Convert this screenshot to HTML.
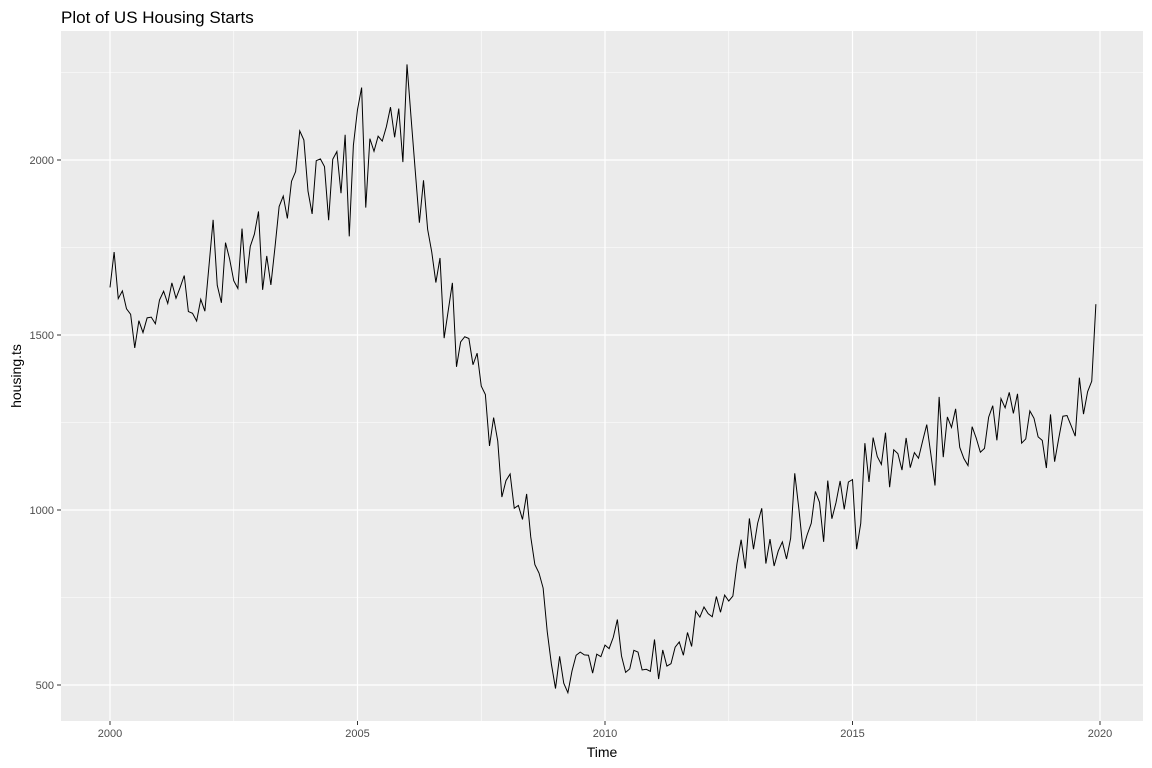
<!DOCTYPE html>
<html><head><meta charset="utf-8"><style>
html,body{margin:0;padding:0;background:#fff;}
svg{display:block;font-family:"Liberation Sans",Arial,sans-serif;}
</style></head><body>
<svg id="chart" width="1152" height="768" viewBox="0 0 1152 768" xmlns="http://www.w3.org/2000/svg">
<rect width="1152" height="768" fill="#fff"/>
<text x="61" y="23" font-size="17" fill="#000">Plot of US Housing Starts</text>
<rect x="61" y="31" width="1082" height="690" fill="#ebebeb"/>
<g id="grid"></g>
<g id="ticks"></g>
<path id="line" fill="none" stroke="#000" stroke-width="1"/>
<text x="602" y="757" font-size="14" text-anchor="middle" fill="#000">Time</text>
<text transform="translate(21,376) rotate(-90)" font-size="14" text-anchor="middle" fill="#000">housing.ts</text>
</svg>
<script>
const startYear = 2000;
const values = [
1636,1737,1604,1626,1575,1559,1463,1541,1507,1549,1551,1532,
1600,1625,1590,1649,1605,1636,1670,1567,1562,1540,1602,1568,
1698,1829,1642,1592,1764,1717,1655,1633,1804,1648,1753,1788,
1853,1629,1726,1643,1751,1867,1897,1833,1939,1967,2083,2057,
1911,1846,1998,2003,1981,1828,2002,2024,1905,2072,1782,2042,
2144,2207,1864,2061,2025,2068,2054,2095,2151,2065,2147,1994,
2273,2119,1969,1821,1942,1802,1737,1650,1720,1491,1570,1649,
1409,1480,1495,1490,1415,1448,1354,1330,1183,1264,1197,1037,
1084,1103,1005,1013,973,1046,923,844,820,777,652,560,
490,582,505,478,540,585,594,586,585,534,588,581,
614,604,636,687,583,536,546,599,594,543,545,539,
630,517,600,554,561,608,623,585,650,610,711,694,
723,704,695,753,708,757,740,754,847,915,833,976,
888,962,1005,847,917,840,883,909,860,919,1105,1003,
888,929,962,1053,1022,909,1084,975,1021,1083,1002,1080,
1087,888,962,1191,1080,1207,1153,1130,1221,1065,1172,1161,
1114,1206,1121,1164,1148,1197,1244,1159,1070,1323,1151,1266,
1236,1289,1179,1147,1127,1238,1205,1165,1176,1265,1298,1199,
1318,1292,1336,1276,1332,1191,1203,1283,1262,1209,1199,1120,
1273,1138,1205,1268,1270,1241,1211,1378,1274,1338,1368,1588];
const xTicks = [2000,2005,2010,2015,2020];
const xMinor = [2002.5,2007.5,2012.5,2017.5];
const yTicks = [500,1000,1500,2000];
const yMinor = [750,1250,1750,2250];

const X = t => 110 + (t - 2000) * 49.5;
const Y = v => 160 + (2000 - v) * 0.35;
const NS = "http://www.w3.org/2000/svg";
const grid = document.getElementById('grid'), ticks = document.getElementById('ticks');
function ln(p, x1,y1,x2,y2,c,w){const l=document.createElementNS(NS,'line');l.setAttribute('x1',x1);l.setAttribute('y1',y1);l.setAttribute('x2',x2);l.setAttribute('y2',y2);l.setAttribute('stroke',c);l.setAttribute('stroke-width',w);p.appendChild(l);return l;}
function tx(p,x,y,s,a){const t=document.createElementNS(NS,'text');t.setAttribute('x',x);t.setAttribute('y',y);t.setAttribute('font-size','11');t.setAttribute('fill','#4d4d4d');t.setAttribute('text-anchor',a);t.textContent=s;p.appendChild(t);return t;}
yMinor.forEach(v=>{const l=ln(grid,61,Y(v),1143,Y(v),'#fff',0.6);

});
xMinor.forEach(v=>{const l=ln(grid,X(v),31,X(v),721,'#fff',0.6);

});
yTicks.forEach(v=>{const l=ln(grid,61,Y(v),1143,Y(v),'#fff',1.2);


const k=ln(ticks,57,Y(v),61,Y(v),'#333',1);


const t=tx(ticks,54,Y(v)+4,v,'end');

});
xTicks.forEach(v=>{const l=ln(grid,X(v),31,X(v),721,'#fff',1.2);


const k=ln(ticks,X(v),721,X(v),725,'#333',1);


const t=tx(ticks,X(v),737,v,'middle');

});
let d='';
values.forEach((v,i)=>{d+=(i?'L':'M')+X(startYear+i/12).toFixed(2)+','+Y(v).toFixed(2);});
document.getElementById('line').setAttribute('d',d);
</script>
</body></html>
